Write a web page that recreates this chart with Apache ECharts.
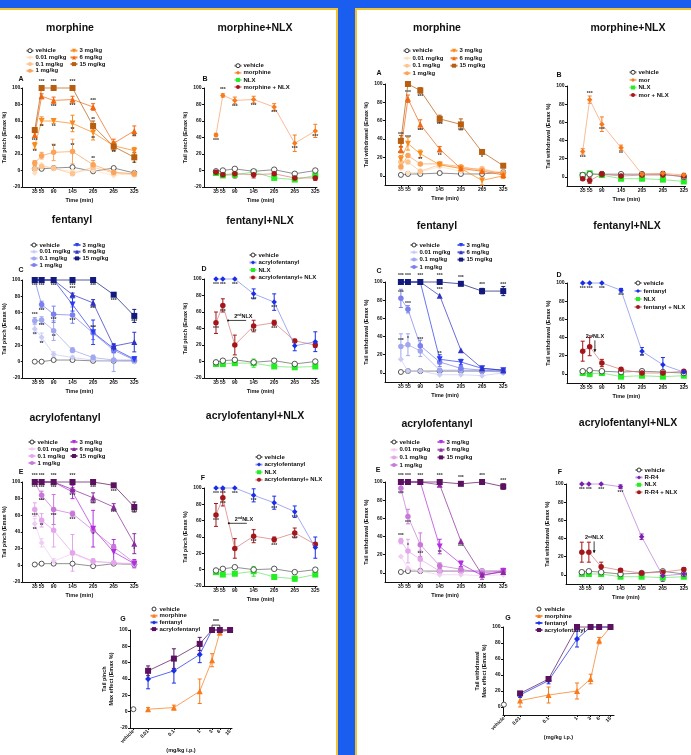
<!DOCTYPE html>
<html><head><meta charset="utf-8">
<script src="https://cdn.jsdelivr.net/npm/echarts@6/dist/echarts.min.js"></script>
<style>html,body{margin:0;padding:0;background:#1a5ef0;}#c{width:691px;height:755px;}</style>
</head><body><div id="c"></div>
<script>
// ---------- shared axes / labels ----------
const T = [35, 55, 90, 145, 205, 265, 325];
const Y_PINCH_TICKS = [-20, 0, 20, 40, 60, 80, 100];
const Y_WD_TICKS = [0, 20, 40, 60, 80, 100];
const DOSES = ['vehicle', '0.01 mg/kg', '0.1 mg/kg', '1 mg/kg', '3 mg/kg', '6 mg/kg', '15 mg/kg'];

// ---------- A: tail pinch, morphine ----------
const A_veh = [2, 2, 3, 4, -1, 3, -3];
const A_001 = [-3, 7, 2, -1, 0, -6, -3];
const A_01 = [2, 5, 3, -4, 4, -3, -5];
const A_1 = [9, 18, 22, 23, 7, -2, -4];
const A_3 = [30, 60, 60, 57, 46, 30, 24];
const A_6 = [43, 90, 85, 86, 77, 33, 48];
const A_15 = [49, 100, 100, 100, 54, 29, 16];
const A_err1 = [3, 4, 10, 15, 5, 3, 3];
const A_err3 = [4, 5, 3, 10, 9, 5, 4];
const A_err6 = [3, 3, 4, 4, 4, 5, 6];
const A_err15 = [3, 0, 0, 0, 6, 5, 6];
const A_st1 = ['', '', '^**', '^**', '^**', '', ''];
const A_st3 = ['v**', 'v**', 'v**', 'v**', 'v**', '', ''];
const A_st6 = ['v***', '', 'v***', 'v***', '^***', '', 'v**'];
const A_st15 = ['', '^***', '^***', '^***', '^**', 'v**', 'v*'];

// ---------- B: tail pinch, morphine + NLX ----------
const B_veh = [-1, 0, 2, -1, 1, -4, 0];
const B_drug = [43, 91, 85, 86, 77, 33, 48];
const B_nlx = [-3, -6, -5, -2, -9, -11, -6];
const B_dn = [-2, -5, -4, -5, -4, -9, -9];
const B_errDrug = [2, 2, 4, 4, 4, 10, 8];
const B_errDn = [2, 2, 5, 4, 3, 3, 3];
const B_stDrug = ['v***', '^***', 'v***', 'v***', 'v***', 'v***', 'v***'];

// ---------- A': tail withdrawal, morphine ----------
const WA_veh = [1, 2, 2, 3, 2, 2, 4];
const WA_001 = [8, 3, 4, 10, 5, 7, 4];
const WA_01 = [15, 15, 5, 12, 8, 8, 1];
const WA_1 = [10, 22, 13, 13, 10, 6, 3];
const WA_3 = [18, 35, 24, 12, 8, -5, 0];
const WA_6 = [28, 84, 56, 29, 8, 5, 1];
const WA_15 = [38, 100, 93, 62, 56, 26, 11];
const WA_err3 = [4, 7, 4, 3, 3, 5, 3];
const WA_err6 = [3, 4, 5, 3, 2, 3, 2];
const WA_err15 = [6, 0, 3, 4, 6, 2, 2];
const WA_st3 = ['^***', '^***', 'v**', '', '', '', ''];
const WA_st6 = ['', '^***', 'v***', 'v**', '', '', ''];
const WA_st15 = ['^***', '', 'v***', 'v***', 'v***', 'v*', ''];

// ---------- B': tail withdrawal, morphine + NLX ----------
const WB_veh = [2, 3, 3, 3, 3, 3, 0];
const WB_drug = [28, 85, 58, 32, 3, 4, 2];
const WB_nlx = [2, 4, 2, -2, -2, -3, -5];
const WB_dn = [-2, -4, 3, 1, 2, 2, 1];
const WB_errDrug = [3, 4, 8, 3, 2, 2, 2];
const WB_errDn = [2, 3, 3, 2, 3, 4, 2];
const WB_stDrug = ['v***', '^***', 'v***', 'v**', '', '', ''];

// ---------- C: tail pinch, fentanyl ----------
const C_veh = [0, 0, 2, 2, 1, 1, 1];
const C_001 = [40, 30, 9, 5, 2, 1, 0];
const C_01 = [50, 51, 38, 14, 5, 2, 2];
const C_1 = [100, 70, 58, 57, 35, 14, 2];
const C_3 = [100, 100, 100, 70, 36, 16, 3];
const C_6 = [100, 100, 100, 82, 72, 19, 24];
const C_15 = [100, 100, 100, 100, 100, 82, 56];
const C_err001 = [6, 5, 3, 2, 3, 2, 2];
const C_err01 = [4, 4, 12, 3, 3, 14, 3];
const C_err1 = [0, 4, 10, 10, 8, 3, 3];
const C_err3 = [0, 0, 0, 8, 15, 5, 3];
const C_err6 = [0, 0, 0, 2, 4, 3, 12];
const C_err15 = [0, 0, 0, 0, 0, 2, 8];
const C_st001 = ['v**', 'v**', '', '', '', '', ''];
const C_st01 = ['^***', 'v***', 'v**', '', '', '', ''];
const C_st1 = ['', 'v***', 'v***', 'v***', '^***', '', ''];
const C_st6 = ['', '', '', '^***', 'v***', '', ''];
const C_st15 = ['v***', 'v***', 'v***', 'v***', 'v***', 'v***', 'v***'];

// ---------- D: tail pinch, fentanyl + NLX ----------
const D_veh = [-1, 1, 2, -1, 1, -3, 0];
const D_drug = [100, 100, 100, 82, 72, 19, 24];
const D_nlx = [-3, -3, -2, -2, -6, -7, -6];
const D_dn = [47, 68, 20, 43, 47, 25, 20];
const D_errDrug = [0, 0, 0, 6, 10, 6, 12];
const D_errDn = [13, 8, 12, 7, 3, 2, 3];
const D_errNlx = [1, 1, 1, 5, 1, 2, 1];
const D_stDrug = ['v***', 'v***', 'v***', 'v***', 'v***', '', ''];
const D_stDn = ['v***', 'v***', '', 'v***', 'v***', '', ''];

// ---------- C': tail withdrawal, fentanyl ----------
const WC_veh = [1, 2, 2, 2, 2, 2, 2];
const WC_001 = [15, 2, 2, -2, -2, -3, 0];
const WC_01 = [29, 31, 24, 3, 3, 2, 1];
const WC_1 = [82, 70, 30, 12, 5, 3, 2];
const WC_3 = [100, 100, 100, 15, 12, 5, 3];
const WC_6 = [100, 100, 100, 85, 25, 5, 3];
const WC_15 = [100, 100, 100, 100, 98, 90, 90];
const WC_err01 = [14, 12, 6, 2, 2, 2, 2];
const WC_err1 = [10, 4, 6, 5, 3, 2, 2];
const WC_err3 = [0, 0, 0, 5, 3, 2, 2];
const WC_err15 = [0, 0, 0, 0, 2, 3, 5];
const WC_st01 = ['^***', '^*', '', '', '', '', ''];
const WC_st1 = ['^***', '^***', '^***', '', '', '', ''];
const WC_st3 = ['', '', '', '^**', '', '', ''];
const WC_st6 = ['', '', '', '^***', '', '', ''];
const WC_st15 = ['^***', '^***', '^***', '^***', '^***', '^***', '^***'];

// ---------- D': tail withdrawal, fentanyl + NLX ----------
const WD_veh = [3, 4, 3, 2, 3, 2, 1];
const WD_drug = [100, 100, 100, 92, 25, 10, 2];
const WD_nlx = [1, 0, 1, -3, -2, -3, -2];
const WD_dn = [25, 30, 12, 5, 1, 1, 3];
const WD_errDrug = [0, 0, 0, 2, 4, 8, 2];
const WD_errDn = [11, 10, 4, 2, 1, 1, 1];
const WD_errNlx = [1, 3, 1, 1, 1, 1, 1];
const WD_stDrug = ['v***', 'v***', 'v***', 'v***', 'v**', '', ''];

// ---------- E: tail pinch, acrylofentanyl ----------
const E_veh = [1, 2, 2, 2, -1, 2, 1];
const E_001 = [50, 27, 5, 14, 4, 3, 1];
const E_01 = [67, 54, 42, 15, 5, 3, 2];
const E_1 = [100, 84, 67, 62, 42, 22, 3];
const E_3 = [100, 100, 100, 88, 44, 16, 2];
const E_6 = [100, 100, 100, 91, 81, 70, 26];
const E_15 = [100, 100, 100, 100, 100, 96, 70];
const E_err001 = [6, 5, 3, 2, 3, 2, 2];
const E_err01 = [8, 8, 20, 22, 3, 2, 2];
const E_err1 = [0, 5, 18, 3, 3, 3, 3];
const E_err3 = [0, 0, 0, 8, 22, 15, 5];
const E_err6 = [0, 0, 0, 2, 6, 4, 12];
const E_err15 = [0, 0, 0, 0, 0, 2, 6];
const E_st001 = ['v**', '', '', '', '', '', ''];
const E_st01 = ['v***', 'v**', '', '', '', '', ''];
const E_st1 = ['', 'v***', 'v***', 'v***', '', '', ''];
const E_st3 = ['', '', '', '', 'v*', '', ''];
const E_st6 = ['v***', 'v***', 'v***', 'v***', 'v***', 'v***', 'v*'];
const E_st15 = ['^***', '^***', '^***', '^***', 'v***', 'v***', 'v***'];

// ---------- F: tail pinch, acrylofentanyl + NLX ----------
const F_veh = [-1, 1, 3, 0, 1, -3, 0];
const F_drug = [100, 100, 100, 91, 82, 71, 27];
const F_nlx = [-3, -6, -5, -2, -9, -11, -6];
const F_dn = [67, 88, 26, 41, 37, 45, 31];
const F_errDrug = [0, 0, 0, 8, 8, 7, 13];
const F_errDn = [14, 10, 12, 8, 3, 6, 2];
const F_errNlx = [2, 2, 2, 6, 2, 3, 2];
const F_stDrug = ['v***', 'v***', 'v***', 'v***', 'v***', 'v***', ''];
const F_stDn = ['v***', 'v***', '', 'v***', 'v***', 'v***', ''];

// ---------- E': tail withdrawal, acrylofentanyl ----------
const WE_veh = [1, 2, 2, 2, 2, 2, 2];
const WE_001 = [18, 5, 2, -2, -2, -3, -2];
const WE_01 = [35, 24, 15, 2, 2, 2, 3];
const WE_1 = [93, 62, 31, 8, 4, 0, 2];
const WE_3 = [100, 100, 100, 29, 10, -3, 2];
const WE_6 = [100, 100, 100, 97, 35, -2, 1];
const WE_15 = [100, 100, 100, 100, 98, 100, 95];
const WE_err01 = [3, 13, 10, 2, 2, 2, 2];
const WE_err1 = [5, 8, 13, 3, 3, 2, 2];
const WE_err3 = [0, 0, 0, 8, 3, 4, 3];
const WE_err15 = [0, 0, 0, 0, 0, 0, 3];
const WE_st01 = ['^***', '^*', '^***', '', '', '', ''];
const WE_st1 = ['v***', 'v***', '', '', '', '', ''];
const WE_st3 = ['', '', '', 'v**', '', '', ''];
const WE_st6 = ['', '', '', '', 'v***', '', ''];
const WE_st15 = ['^***', '^***', '^***', '^***', '^***', '^***', '^***'];

// ---------- F': tail withdrawal, acrylofentanyl (R-R4) + NLX ----------
const WF_veh = [3, 4, 3, 1, 2, 4, 1];
const WF_drug = [100, 100, 100, 97, 42, -1, 1];
const WF_nlx = [1, 1, 1, -2, -2, -3, -2];
const WF_dn = [25, 25, 9, 5, 2, 3, 6];
const WF_errDrug = [0, 0, 0, 2, 3, 6, 2];
const WF_errDn = [11, 11, 5, 2, 1, 1, 2];
const WF_stDrug = ['v***', 'v***', 'v***', 'v***', '', '', ''];

// ---------- G: max effect vs dose ----------
const G_doses = [0.01, 0.1, 1, 3, 6, 15];
const G_vehDose = 0.0027;
const G_tickLabels = ['vehicle', '0.01', '0.1', '1', '3', '6', '15'];
const GP_veh = [3];
const GP_mor = [3, 5, 25, 63, 97, 100];
const GP_fen = [40, 50, 70, 100, 100, 100];
const GP_acr = [50, 65, 83, 100, 100, 100];
const GP_errMor = [2, 3, 15, 8, 3, 0];
const GP_errFen = [12, 15, 10, 0, 0, 0];
const GP_errAcr = [6, 12, 8, 0, 0, 0];
const GW_veh = [3];
const GW_mor = [8, 15, 20, 35, 83, 100];
const GW_fen = [15, 33, 85, 100, 100, 100];
const GW_acr = [17, 35, 100, 100, 100, 100];
const GW_errMor = [8, 10, 10, 6, 4, 0];
const GW_errFen = [3, 4, 10, 0, 0, 0];
const GW_errAcr = [2, 3, 0, 0, 0, 0];

// ---------- styles ----------
const FF = '"Liberation Sans", Arial, sans-serif';
const INV_TRI = 'path://M0,0L10,0L5,9Z';
const SYMS = ['circle', 'diamond', 'circle', 'circle', INV_TRI, 'triangle', 'rect'];
const SIZES = [5, 6, 5.5, 5.5, 6, 6, 6];
const P_MOR = ['#444', '#fde0c2', '#fcc48f', '#fba35a', '#f98a1c', '#f26812', '#b75e10'];
const P_FEN = ['#444', '#c9ccf7', '#a0a6f0', '#7a80ee', '#2b3df0', '#2e33c4', '#121a7e'];
const P_ACR = ['#444', '#f0cdf2', '#e3a6eb', '#c878d8', '#b22fe0', '#8b2a9e', '#5a115e'];
const C_GREEN = '#22ee22', C_RED = '#a3171b';

const opt = {animation: false, backgroundColor: '#1a5ef0', textStyle: {fontFamily: FF},
  grid: [], xAxis: [], yAxis: [], series: [], legend: [], graphic: []};

// frame
opt.graphic.push(
  {type: 'rect', z: -10, silent: true, shape: {x: 0, y: 0, width: 691, height: 755}, style: {fill: '#1a5ef0'}},
  {type: 'rect', z: -9, silent: true, shape: {x: -2, y: 9, width: 339, height: 760}, style: {fill: '#fff', stroke: '#f2c230', lineWidth: 2}},
  {type: 'rect', z: -9, silent: true, shape: {x: 356, y: 9, width: 340, height: 760}, style: {fill: '#fff', stroke: '#f2c230', lineWidth: 2}}
);

function txt(t, x, y, size, align) {
  opt.graphic.push({type: 'text', x: x, y: y, silent: true, z: 5,
    style: {text: t, fontSize: size, fontWeight: 'bold', fontFamily: FF, fill: '#111',
      align: align || 'center', verticalAlign: 'middle', textAlign: align || 'center', textVerticalAlign: 'middle'}});
}

function addGrid(box, xmin, xmax, xticks, xfmt, ymin, yticks, xname, yname, xrot, xNameGap, yNameGap) {
  const gi = opt.grid.length;
  opt.grid.push({left: box[0], top: box[1], width: box[2], height: box[3], show: false});
  const lab = {fontSize: 5, fontWeight: 'bold', color: '#111', fontFamily: FF};
  opt.xAxis.push({type: 'value', gridIndex: gi, min: xmin, max: xmax,
    axisLine: {show: true, onZero: false, lineStyle: {color: '#111', width: 1}},
    axisTick: {show: true, customValues: xticks, length: 2, lineStyle: {color: '#111'}},
    axisLabel: Object.assign({show: true, customValues: xticks, formatter: xfmt, margin: 2.5, rotate: xrot || 0}, lab),
    splitLine: {show: false}, name: xname, nameLocation: 'middle', nameGap: xNameGap || 10,
    nameTextStyle: {fontSize: 5.5, fontWeight: 'bold', color: '#111', fontFamily: FF}});
  opt.yAxis.push({type: 'value', gridIndex: gi, min: ymin, max: 100,
    axisLine: {show: true, onZero: false, lineStyle: {color: '#111', width: 1}},
    axisTick: {show: true, customValues: yticks, length: 2, lineStyle: {color: '#111'}},
    axisLabel: Object.assign({show: true, customValues: yticks, margin: 2.5}, lab),
    splitLine: {show: false}, name: yname, nameLocation: 'middle', nameRotate: 90, nameGap: yNameGap || 10,
    nameTextStyle: {fontSize: 5.5, fontWeight: 'bold', color: '#111', fontFamily: FF, lineHeight: 7}});
  return gi;
}

function errRender(color) {
  return function (params, api) {
    const e = api.value(2);
    if (!e) return null;
    const x = api.value(0), v = api.value(1);
    const p1 = api.coord([x, v + e]), p2 = api.coord([x, v - e]);
    const w = 2, st = {stroke: color, lineWidth: 1};
    return {type: 'group', children: [
      {type: 'line', shape: {x1: p1[0], y1: p1[1], x2: p2[0], y2: p2[1]}, style: st},
      {type: 'line', shape: {x1: p1[0] - w, y1: p1[1], x2: p1[0] + w, y2: p1[1]}, style: st},
      {type: 'line', shape: {x1: p2[0] - w, y1: p2[1], x2: p2[0] + w, y2: p2[1]}, style: st}]};
  };
}

function addSeries(gi, name, xs, vals, s) {
  const data = vals.map(function (v, i) {
    const d = {value: [xs[i], v]};
    const st = s.stars && s.stars[i];
    if (st) d.label = {show: true, formatter: st.slice(1), position: st[0] === '^' ? 'top' : 'bottom',
      distance: 0.5, fontSize: 5, fontWeight: 'bold', color: '#333', fontFamily: FF};
    return d;
  });
  opt.series.push({type: 'line', name: name, xAxisIndex: gi, yAxisIndex: gi, data: data,
    symbol: s.symbol, symbolSize: s.size || 5, showSymbol: true, clip: false, silent: true, z: s.z || 3,
    itemStyle: {color: s.fill || s.color, borderColor: s.color, borderWidth: s.fill ? 0.9 : 0, opacity: 1},
    lineStyle: {color: s.line || s.color, width: s.noLine ? 0 : 0.9, opacity: s.noLine ? 0 : 0.8}});
  if (s.err) {
    opt.series.push({type: 'custom', xAxisIndex: gi, yAxisIndex: gi, clip: false, silent: true, z: 2,
      encode: {x: 0, y: 1}, data: vals.map(function (v, i) { return [xs[i], v, s.err[i]]; }),
      renderItem: errRender(s.color)});
  }
}

function addLegend(names, mx, my, gap) {
  const data = names.map(function (n) {
    return /\|vehicle$/.test(n) ? {name: n, itemStyle: {color: '#fff', borderColor: '#333', borderWidth: 1}} : {name: n};
  });
  opt.legend.push({data: data, orient: 'vertical', left: mx - 3.5, top: my - 3, itemWidth: 7, itemHeight: 5,
    itemGap: gap - 6, padding: 0, selectedMode: false,
    textStyle: {fontSize: 6, fontWeight: 'bold', color: '#111', fontFamily: FF, lineHeight: 6, padding: [0, 0, 0, -3]},
    formatter: function (n) { return n.split('|')[1]; }});
}

const idFmt = function (v) { return String(v); };

function dosePanel(id, box, xmin, ymin, yticks, yname, pal, vals, errs, stars, leg) {
  const gi = addGrid(box, xmin, 330, T, idFmt, ymin, yticks, 'Time (min)', yname);
  const names = DOSES.map(function (d) { return id + '|' + d; });
  for (let k = 0; k < 7; k++) {
    addSeries(gi, names[k], T, vals[k], {symbol: SYMS[k], size: SIZES[k], color: pal[k],
      fill: k === 0 ? '#fff' : null, line: k === 0 ? '#666' : pal[k], err: errs[k], stars: stars[k], z: 3 + k});
  }
  addLegend(names.slice(0, 4), leg[0], leg[1], leg[4]);
  addLegend(names.slice(4), leg[2], leg[3], leg[4]);
}

function nlxPanel(id, box, xmin, ymin, yticks, yname, nm, drugColor, drugLine, vals, errs, stars, leg) {
  const gi = addGrid(box, xmin, 330, T, idFmt, ymin, yticks, 'Time (min)', yname);
  const names = nm.map(function (n) { return id + '|' + n; });
  const cols = ['#444', drugColor, C_GREEN, C_RED];
  const lines = ['#666', drugLine, '#6be36b', '#d87a7a'];
  const syms = ['circle', 'diamond', 'rect', 'circle'];
  const zs = [4, 6, 3, 5];
  for (let k = 0; k < 4; k++) {
    addSeries(gi, names[k], T, vals[k], {symbol: syms[k], size: k === 2 ? 6 : 5.5, color: cols[k],
      fill: k === 0 ? '#fff' : null, line: lines[k], err: errs[k], stars: stars[k], z: zs[k]});
  }
  addLegend(names, leg[0], leg[1], leg[2]);
  return gi;
}

const PINCH = 'Tail pinch (Emax %)';
const WD = 'Tail withdrawal (Emax %)';
const NM_B = ['vehicle', 'morphine', 'NLX', 'morphine + NLX'];
const NM_WB = ['vehicle', 'mor', 'NLX', 'mor + NLX'];
const NM_D = ['vehicle', 'acrylofentanyl', 'NLX', 'acrylofentanyl+ NLX'];
const NM_WD = ['vehicle', 'fentanyl', 'NLX', 'fentanyl + NLX'];
const NM_WF = ['vehicle', 'R-R4', 'NLX', 'R-R4 + NLX'];

// ----- row 1 -----
dosePanel('A', [22, 88, 114, 99], 0, -20, Y_PINCH_TICKS, PINCH, P_MOR,
  [A_veh, A_001, A_01, A_1, A_3, A_6, A_15], [null, null, null, A_err1, A_err3, A_err6, A_err15],
  [null, null, null, A_st1, A_st3, A_st6, A_st15], [29, 50.7, 73, 50.7, 6.7]);
nlxPanel('B', [204, 88, 113, 99], 0, -20, Y_PINCH_TICKS, PINCH, NM_B, '#f77b1c', '#f8a070',
  [B_veh, B_drug, B_nlx, B_dn], [null, B_errDrug, null, B_errDn], [null, B_stDrug, null, null], [237, 65.7, 7.1]);
dosePanel('WA', [385, 84, 120, 101], -10, -10, Y_WD_TICKS, WD, P_MOR,
  [WA_veh, WA_001, WA_01, WA_1, WA_3, WA_6, WA_15], [null, null, null, null, WA_err3, WA_err6, WA_err15],
  [null, null, null, null, WA_st3, WA_st6, WA_st15], [406, 50.7, 453, 50.7, 7.5]);
nlxPanel('WB', [567, 86, 121, 100], -10, -10, Y_WD_TICKS, WD, NM_WB, '#f77b1c', '#f8a070',
  [WB_veh, WB_drug, WB_nlx, WB_dn], [null, WB_errDrug, null, WB_errDn], [null, WB_stDrug, null, null], [632, 72.3, 7.6]);

// ----- row 2 -----
dosePanel('C', [22, 280, 114, 98], 0, -20, Y_PINCH_TICKS, PINCH, P_FEN,
  [C_veh, C_001, C_01, C_1, C_3, C_6, C_15], [null, C_err001, C_err01, C_err1, C_err3, C_err6, C_err15],
  [null, C_st001, C_st01, C_st1, null, C_st6, C_st15], [33, 245, 76, 245, 6.7]);
const gD = nlxPanel('D', [204, 279, 113, 99], 0, -20, Y_PINCH_TICKS, PINCH, NM_D, '#1a2ee6', '#8088f0',
  [D_veh, D_drug, D_nlx, D_dn], [null, D_errDrug, D_errNlx, D_errDn], [null, D_stDrug, null, D_stDn], [252, 255, 7.5]);
dosePanel('WC', [385, 282, 120, 100], -10, -10, Y_WD_TICKS, WD, P_FEN,
  [WC_veh, WC_001, WC_01, WC_1, WC_3, WC_6, WC_15], [null, null, WC_err01, WC_err1, WC_err3, null, WC_err15],
  [null, null, WC_st01, WC_st1, WC_st3, WC_st6, WC_st15], [413, 245, 460, 245, 7.3]);
const gWD = nlxPanel('WD', [567, 283, 120, 100], -10, -10, Y_WD_TICKS, WD, NM_WD, '#1a2ee6', '#8088f0',
  [WD_veh, WD_drug, WD_nlx, WD_dn], [null, WD_errDrug, WD_errNlx, WD_errDn], [null, WD_stDrug, null, null], [637, 283, 8]);

// ----- row 3 -----
dosePanel('E', [22, 482, 114, 100], 0, -20, Y_PINCH_TICKS, PINCH, P_ACR,
  [E_veh, E_001, E_01, E_1, E_3, E_6, E_15], [null, E_err001, E_err01, E_err1, E_err3, E_err6, E_err15],
  [null, E_st001, E_st01, E_st1, E_st3, E_st6, E_st15], [31, 442, 73, 442, 7]);
const gF = nlxPanel('F', [204, 488, 113, 98], 0, -20, Y_PINCH_TICKS, PINCH, NM_D, '#1a2ee6', '#8088f0',
  [F_veh, F_drug, F_nlx, F_dn], [null, F_errDrug, F_errNlx, F_errDn], [null, F_stDrug, null, F_stDn], [258, 457, 7.6]);
dosePanel('WE', [385, 482, 120, 100], -10, -10, Y_WD_TICKS, WD, P_ACR,
  [WE_veh, WE_001, WE_01, WE_1, WE_3, WE_6, WE_15], [null, null, WE_err01, WE_err1, WE_err3, null, WE_err15],
  [null, null, WE_st01, WE_st1, WE_st3, WE_st6, WE_st15], [393, 442, 440, 442, 7.7]);
const gWF = nlxPanel('WF', [566, 484, 121, 100], -10, -10, Y_WD_TICKS, WD, NM_WF, '#7a1fb0', '#b77ad6',
  [WF_veh, WF_drug, WF_nlx, WF_dn], [null, WF_errDrug, null, WF_errDn], [null, WF_stDrug, null, null], [638, 470, 7.4]);

// ----- G panels -----
const G_x = G_doses.map(function (d) { return Math.log10(d); });
const G_vx = [Math.log10(G_vehDose)];
const G_ticks = G_vx.concat(G_x);
const gFmt = function (v) { const i = G_ticks.findIndex(function (t) { return Math.abs(t - v) < 1e-6; }); return i >= 0 ? G_tickLabels[i] : ''; };
function gPanel(id, box, xmin, xmax, ymin, yticks, yname, vals, errs, leg) {
  const gi = addGrid(box, xmin, xmax, G_ticks, gFmt, ymin, yticks, '(mg/kg i.p.)', yname, 45, 16, 12);
  const names = ['vehicle', 'morphine', 'fentanyl', 'acrylofentanyl'].map(function (n) { return id + '|' + n; });
  addSeries(gi, names[0], G_vx, vals[0], {symbol: 'circle', size: 5, color: '#444', fill: '#fff', noLine: true});
  addSeries(gi, names[1], G_x, vals[1], {symbol: 'triangle', size: 6, color: '#f77b1c', err: errs[0], z: 4});
  addSeries(gi, names[2], G_x, vals[2], {symbol: 'diamond', size: 6, color: '#1a2ee6', err: errs[1], z: 5});
  addSeries(gi, names[3], G_x, vals[3], {symbol: 'rect', size: 6, color: '#5a115e', err: errs[2], z: 6});
  addLegend(names, leg[0], leg[1], leg[2]);
  return gi;
}
const gGP = gPanel('GP', [130, 630, 102, 98], -2.7, 1.25, -20, Y_PINCH_TICKS, 'Tail pinch\nMax effect (Emax %)',
  [GP_veh, GP_mor, GP_fen, GP_acr], [GP_errMor, GP_errFen, GP_errAcr], [153, 609, 6.7]);
gPanel('GW', [503, 627, 111, 88], -2.6, 1.3, -10, Y_WD_TICKS, 'Tail withdrawal\nMax effect (Emax %)',
  [GW_veh, GW_mor, GW_fen, GW_acr], [GW_errMor, GW_errFen, GW_errAcr], [538, 609, 7]);

// ----- titles & panel letters -----
[['morphine', 70, 28], ['morphine+NLX', 255, 28], ['morphine', 437, 28], ['morphine+NLX', 628, 28],
 ['fentanyl', 72, 220], ['fentanyl+NLX', 260, 221], ['fentanyl', 437, 226], ['fentanyl+NLX', 627, 226],
 ['acrylofentanyl', 65, 418], ['acrylofentanyl+NLX', 255, 416], ['acrylofentanyl', 437, 424], ['acrylofentanyl+NLX', 628, 423]]
  .forEach(function (t) { txt(t[0], t[1], t[2], 10.5); });
[['A', 21, 79], ['B', 205, 79], ['A', 379, 73], ['B', 559, 75], ['C', 21, 270], ['D', 204, 269], ['C', 379, 271],
 ['D', 559, 275], ['E', 21, 472], ['F', 203, 478], ['E', 378, 470], ['F', 560, 472], ['G', 123, 619], ['G', 508, 618]]
  .forEach(function (t) { txt(t[0], t[1], t[2], 7); });

const chart = echarts.init(document.getElementById('c'), null, {renderer: 'canvas', width: 691, height: 755});
chart.setOption(opt);

// ----- annotations placed in data space -----
const NOTE_D = [88, 51], NOTE_F = [90, 58], NOTE_WD = [70, 38], NOTE_WF = [70, 38];
const extra = [];
function noteLeft(gi, at) {
  const p = chart.convertToPixel({gridIndex: gi}, at);
  extra.push({type: 'text', x: p[0], y: p[1], z: 6, silent: true, style: {rich: {a: {fontSize: 5.5, fontWeight: 'bold', fontFamily: FF}, s: {fontSize: 3.5, fontWeight: 'bold', verticalAlign: 'top', fontFamily: FF}},
    text: '{a|2}{s|nd}{a|NLX}', fill: '#111', align: 'left', verticalAlign: 'bottom'}});
  extra.push({type: 'line', z: 6, silent: true, shape: {x1: p[0] - 6, y1: p[1] + 1, x2: p[0] + 12, y2: p[1] + 1}, style: {stroke: '#111', lineWidth: 0.8}});
  extra.push({type: 'circle', z: 6, silent: true, shape: {cx: p[0] - 6, cy: p[1] + 1, r: 1}, style: {fill: '#111'}});
}
function noteDown(gi, at) {
  const p = chart.convertToPixel({gridIndex: gi}, at);
  extra.push({type: 'text', x: p[0], y: p[1], z: 6, silent: true, style: {rich: {a: {fontSize: 5.5, fontWeight: 'bold', fontFamily: FF}, s: {fontSize: 3.5, fontWeight: 'bold', fontFamily: FF}},
    text: '{a|2}{s|nd}{a|NLX}', fill: '#111', align: 'center', verticalAlign: 'bottom'}});
  extra.push({type: 'line', z: 6, silent: true, shape: {x1: p[0], y1: p[1] + 1, x2: p[0], y2: p[1] + 12}, style: {stroke: '#111', lineWidth: 0.8}});
  extra.push({type: 'polygon', z: 6, silent: true, shape: {points: [[p[0] - 1.5, p[1] + 10], [p[0] + 1.5, p[1] + 10], [p[0], p[1] + 13]]}, style: {fill: '#111'}});
}
noteLeft(gD, NOTE_D);
noteLeft(gF, NOTE_F);
noteDown(gWD, NOTE_WD);
noteDown(gWF, NOTE_WF);
// significance bracket in G (tail pinch)
const BR = [[3, 6], 106];
const b1 = chart.convertToPixel({gridIndex: gGP}, [Math.log10(BR[0][0]), BR[1]]);
const b2 = chart.convertToPixel({gridIndex: gGP}, [Math.log10(BR[0][1]), BR[1]]);
extra.push({type: 'polyline', z: 6, silent: true, shape: {points: [[b1[0], b1[1] + 2], b1, b2, [b2[0], b2[1] + 2]]}, style: {stroke: '#111', lineWidth: 0.8, fill: null}});
extra.push({type: 'text', x: (b1[0] + b2[0]) / 2, y: b1[1] - 0.5, z: 6, silent: true, style: {text: '***', fontSize: 5, fontWeight: 'bold', fill: '#111', align: 'center', verticalAlign: 'bottom', fontFamily: FF}});
chart.setOption({graphic: opt.graphic.concat(extra)});
</script></body></html>
